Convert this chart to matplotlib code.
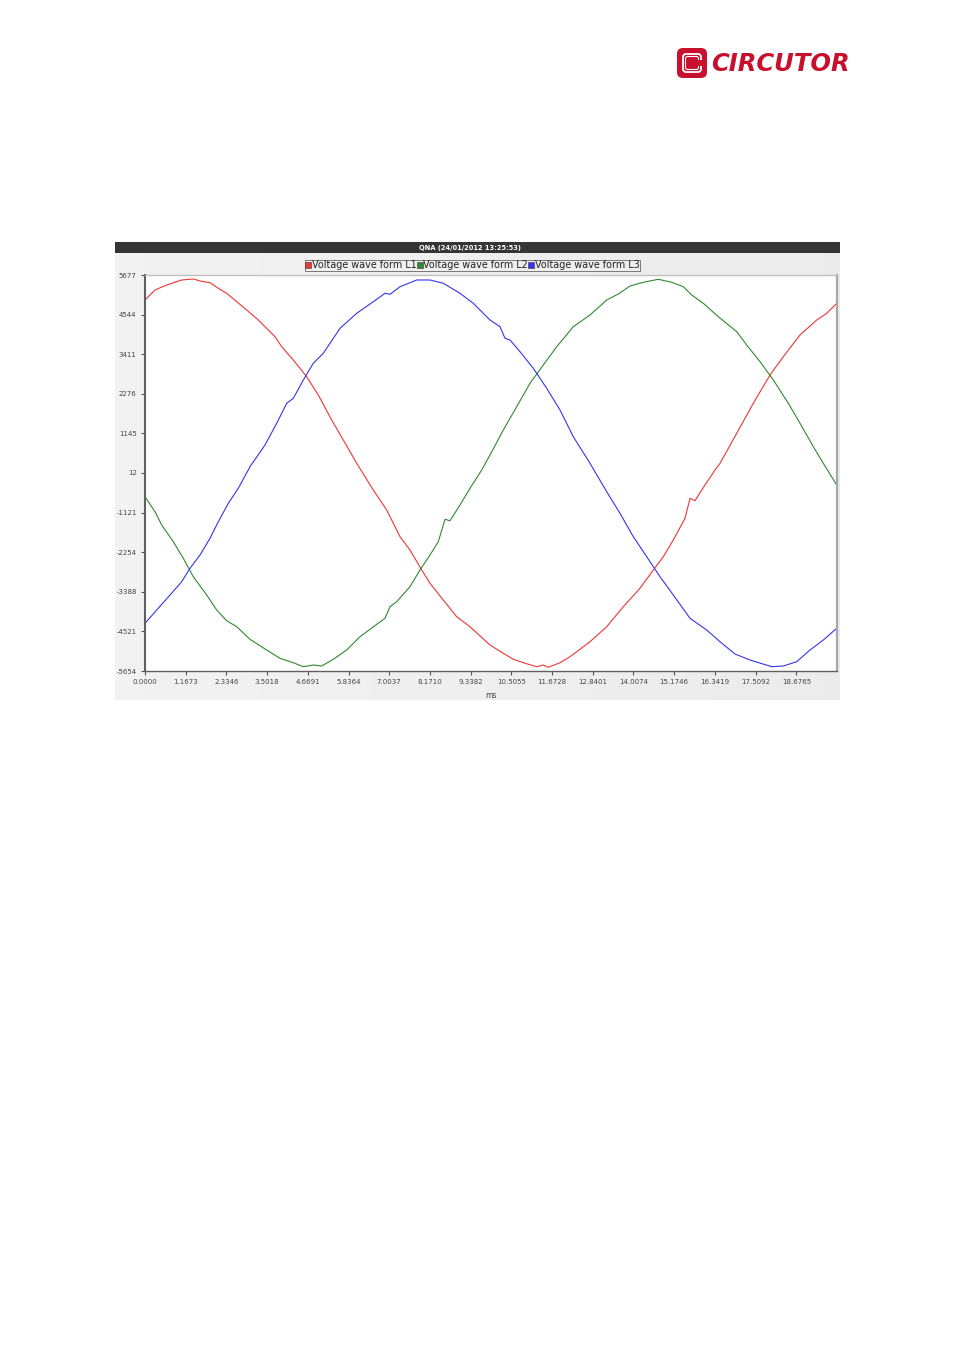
import matplotlib
matplotlib.use("Agg")
import matplotlib.pyplot as plt
import numpy as np
from matplotlib.lines import Line2D
from matplotlib.patches import FancyBboxPatch, Rectangle

# ---------------- data ----------------
t_L1 = [0.000, 0.287, 0.622, 1.052, 1.385, 1.577, 1.864, 2.102, 2.343, 2.630, 2.916, 3.249,
        3.536, 3.728, 3.920, 4.253, 4.637, 4.970, 5.354, 5.687, 6.071, 6.547, 6.931, 7.312,
        7.599, 7.935, 8.173, 8.554, 8.938, 9.320, 9.893, 10.275, 10.561, 10.848, 11.232,
        11.422, 11.565, 11.901, 12.187, 12.761, 13.240, 13.716, 14.193, 14.576, 14.863,
        15.149, 15.485, 15.629, 15.772, 15.964, 16.345, 16.490, 16.968, 17.444, 17.923,
        18.304, 18.783, 19.262, 19.549, 19.835]
v_L1 = [4962, 5248, 5391, 5534, 5563, 5505, 5457, 5296, 5153, 4913, 4676, 4389,
        4103, 3912, 3625, 3245, 2767, 2243, 1528, 956, 289, -475, -1047, -1811,
        -2192, -2764, -3145, -3623, -4100, -4387, -4910, -5148, -5319, -5417, -5531,
        -5482, -5548, -5417, -5245, -4816, -4387, -3814, -3288, -2764, -2384,
        -1906, -1285, -713, -781, -475, 97, 289, 1147, 2006, 2816,
        3339, 3960, 4389, 4581, 4867]

t_L2 = [0.000, 0.287, 0.479, 0.812, 1.098, 1.385, 1.769, 2.056, 2.343, 2.630, 3.011, 3.490,
        3.871, 4.253, 4.540, 4.826, 5.067, 5.400, 5.784, 6.165, 6.452, 6.882, 7.026, 7.218,
        7.599, 7.886, 8.173, 8.411, 8.603, 8.746, 9.033, 9.320, 9.655, 9.893, 10.275,
        10.659, 11.040, 11.422, 11.806, 12.282, 12.761, 13.240, 13.573, 13.908, 14.289,
        14.720, 15.104, 15.437, 15.677, 16.010, 16.440, 16.968, 17.254, 17.636, 18.018,
        18.448, 18.783, 19.165, 19.451, 19.835]
v_L2 = [-667, -1096, -1477, -1954, -2429, -2956, -3479, -3909, -4215, -4387, -4747, -5053,
        -5291, -5417, -5531, -5482, -5511, -5319, -5053, -4673, -4461, -4146, -3814, -3671,
        -3242, -2764, -2335, -1954, -1313, -1354, -904, -426, 97, 526, 1242,
        1909, 2578, 3102, 3625, 4198, 4532, 4962, 5133, 5362, 5468,
        5554, 5468, 5342, 5105, 4867, 4484, 4055, 3674, 3196, 2673,
        2006, 1434, 764, 289, -332]

t_L3 = [0.000, 0.336, 0.717, 1.052, 1.290, 1.577, 1.864, 2.102, 2.389, 2.676, 3.011, 3.441,
        3.777, 4.063, 4.253, 4.540, 4.826, 5.113, 5.592, 6.071, 6.547, 6.882, 7.026, 7.312,
        7.791, 8.173, 8.554, 9.033, 9.414, 9.893, 10.180, 10.323, 10.467, 10.754, 11.135,
        11.519, 11.901, 12.282, 12.761, 13.240, 13.621, 14.003, 14.387, 14.768, 15.149,
        15.628, 16.107, 16.489, 16.919, 17.349, 17.972, 18.304, 18.688, 19.070, 19.451,
        19.835]
v_L3 = [-4289, -3909, -3479, -3099, -2716, -2335, -1857, -1382, -856, -426, 192, 813,
        1434, 2006, 2149, 2673, 3150, 3437, 4152, 4581, 4913, 5153, 5125, 5342,
        5534, 5534, 5440, 5153, 4867, 4389, 4198, 3866, 3817, 3482, 3007,
        2435, 1814, 1050, 289, -524, -1142, -1811, -2384, -2956, -3479,
        -4146, -4481, -4816, -5168, -5339, -5531, -5511, -5388, -5053, -4767,
        -4432]

series_names = ["Voltage wave form L1", "Voltage wave form L2", "Voltage wave form L3"]
series_colors = ["#f03535", "#2f8a2f", "#3535f0"]

x_tick_labels = ["0.0000", "1.1673", "2.3346", "3.5018", "4.6691", "5.8364", "7.0037",
                 "8.1710", "9.3382", "10.5055", "11.6728", "12.8401", "14.0074",
                 "15.1746", "16.3419", "17.5092", "18.6765"]
y_tick_values = [5677, 4544, 3411, 2276, 1145, 12, -1121, -2254, -3388, -4521, -5654]
x_max = 19.84375
title_text = "QNA (24/01/2012 13:25:53)"
x_label = "ms"
logo_text = "CIRCUTOR"

# ---------------- layout ----------------
W, H = 954, 1350
fig = plt.figure(figsize=(W / 100, H / 100), dpi=100)
fig.patch.set_facecolor("white")


def rect(l, t, r, b):
    return [l / W, 1 - b / H, (r - l) / W, (b - t) / H]


# panel background with gentle gradient
bg = fig.add_axes(rect(115, 242, 840, 700), zorder=0)
grad = np.linspace(0.95, 0.925, 256).reshape(1, -1)
bg.imshow(np.dstack([grad, grad, grad]), aspect="auto", extent=[0, 1, 0, 1])
bg.set_axis_off()

# title bar
tb = fig.add_axes(rect(115, 242, 840, 253), zorder=1)
tb.set_facecolor("#353535")
tb.set_xticks([]); tb.set_yticks([])
for s in tb.spines.values():
    s.set_visible(False)
tb.text(0.49, 0.45, title_text, color="white", fontsize=4.8, fontweight="bold",
        ha="center", va="center", transform=tb.transAxes)

# plot area
ax = fig.add_axes(rect(145, 275, 837, 671), zorder=2)
ax.set_facecolor("white")
for t, v, c, n in zip([t_L1, t_L2, t_L3], [v_L1, v_L2, v_L3], series_colors, series_names):
    ax.plot(t, v, color=c, lw=0.8, label=n)

ax.set_xlim(0, x_max)
ax.set_ylim(y_tick_values[-1], y_tick_values[0])
step = x_max / 17
ax.set_xticks([i * step for i in range(len(x_tick_labels))])
ax.set_xticklabels(x_tick_labels)
ax.set_yticks(y_tick_values)
ax.set_yticklabels([str(v) for v in y_tick_values])
ax.tick_params(axis="both", direction="out", length=3, width=0.8, colors="#555555",
               labelsize=5, labelcolor="#444444", pad=3)

ax.spines["left"].set_color("#606060"); ax.spines["left"].set_linewidth(1.5)
ax.spines["bottom"].set_color("#606060"); ax.spines["bottom"].set_linewidth(1.0)
ax.spines["right"].set_color("#a8a8a8"); ax.spines["right"].set_linewidth(1.6)
ax.spines["top"].set_color("#c0c0c0"); ax.spines["top"].set_linewidth(1.0)

ax.set_xlabel(x_label, fontsize=5.5, color="#444444", labelpad=4)

# legend
handles = [Line2D([], [], marker="s", linestyle="None", markersize=5,
                  markerfacecolor=c, markeredgecolor="#333333", markeredgewidth=0.4)
           for c in series_colors]
leg = fig.legend(handles, series_names, loc="center",
                 bbox_to_anchor=(472.5 / W, 1 - 265.5 / H), ncol=3, fontsize=6.9,
                 frameon=True, fancybox=False, handlelength=0.6, handletextpad=0.05,
                 columnspacing=0.05, borderpad=0.1, borderaxespad=0)
leg.get_frame().set_edgecolor("#444444")
leg.get_frame().set_linewidth(0.6)
leg.get_frame().set_facecolor("none")
for txt in leg.get_texts():
    txt.set_color("#222222")

# logo
lg = fig.add_axes(rect(670, 40, 860, 85), zorder=3)
lg.set_xlim(670, 860); lg.set_ylim(85, 40)
lg.set_axis_off()
red = "#c8102e"
lg.add_patch(FancyBboxPatch((677, 48), 30, 30, boxstyle="round,pad=0,rounding_size=6",
                            facecolor=red, edgecolor="none"))
lg.add_patch(FancyBboxPatch((683, 54), 18, 18, boxstyle="round,pad=0,rounding_size=3",
                            facecolor="none", edgecolor="white", linewidth=1.3))
lg.add_patch(FancyBboxPatch((685.5, 56.5), 13, 13, boxstyle="round,pad=0,rounding_size=2",
                            facecolor="none", edgecolor="white", linewidth=0.8))
lg.add_patch(Rectangle((694, 60), 9, 6, facecolor=red, edgecolor="none"))
lg.text(711, 64, logo_text, fontsize=17.5, fontweight="bold", fontstyle="italic",
        color=red, ha="left", va="center", family="DejaVu Sans")

fig.savefig("out.png", dpi=100, facecolor="white")
